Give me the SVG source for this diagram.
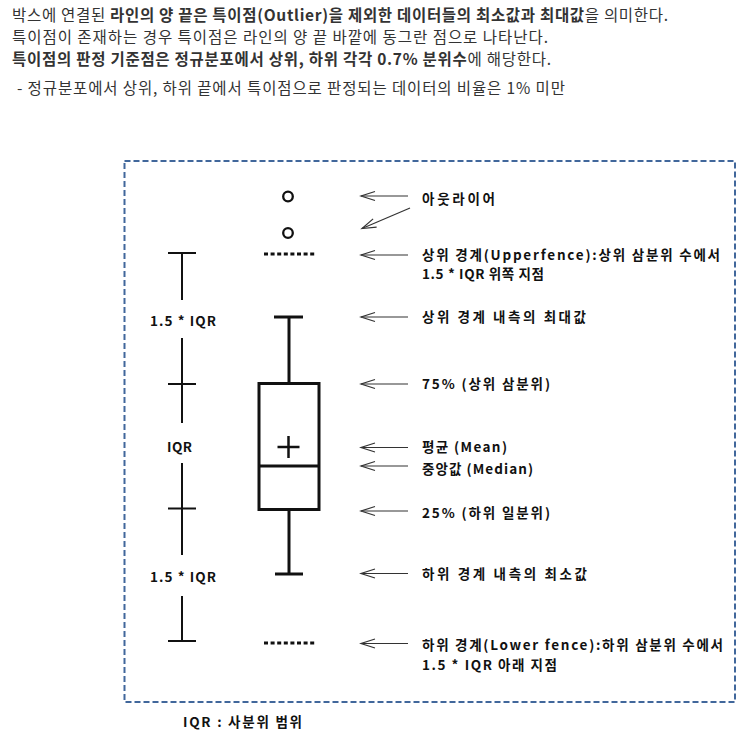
<svg xmlns="http://www.w3.org/2000/svg" width="755" height="737" viewBox="0 0 755 737">
<defs>
<style>
.top{font-family:"Noto Sans CJK KR","Noto Sans",sans-serif;font-size:15.5px;fill:#333}
.b{font-weight:700}
.lbl{font-family:"Noto Sans CJK KR","Liberation Sans",sans-serif;font-size:13.5px;font-weight:700;fill:#111}
.thin{stroke:#111;stroke-width:2;fill:none}
.thick{stroke:#111;stroke-width:3;fill:none}
.arr{stroke:#333;stroke-width:1.2;fill:none;marker-end:url(#open)}
.dot{stroke:#111;stroke-width:3;stroke-dasharray:4 2.6;fill:none}
</style>
<marker id="open" viewBox="-15 -6 17 12" refX="0" refY="0" markerWidth="17" markerHeight="12" markerUnits="userSpaceOnUse" orient="auto">
<path d="M-14,-4.5 L0,0 L-14,4.5" fill="none" stroke="#333" stroke-width="1.2"/>
</marker>
</defs>
<rect width="755" height="737" fill="#fff"/>

<g id="intro">
<text class="top" x="12" y="20.5" textLength="656" lengthAdjust="spacing">박스에 연결된 <tspan class="b">라인의 양 끝은 특이점(Outlier)을 제외한 데이터들의 최소값과 최대값</tspan>을 의미한다.</text>
<text class="top" x="12" y="42.5" textLength="536" lengthAdjust="spacing">특이점이 존재하는 경우 특이점은 라인의 양 끝 바깥에 동그란 점으로 나타난다.</text>
<text class="top" x="12" y="64.5" textLength="539" lengthAdjust="spacing"><tspan class="b">특이점의 판정 기준점은 정규분포에서 상위, 하위 각각 0.7% 분위수</tspan>에 해당한다.</text>
<text class="top" x="17" y="93.5" textLength="548" lengthAdjust="spacing">- 정규분포에서 상위, 하위 끝에서 특이점으로 판정되는 데이터의 비율은 1% 미만</text>
</g>

<g id="frame">
<rect x="124.5" y="161" width="610.5" height="541" fill="none" stroke="#41679B" stroke-width="2" stroke-dasharray="6 3"/>
</g>

<g id="iqr-scale">
<line class="thin" x1="168" y1="253" x2="196" y2="253"/>
<line class="thin" x1="182" y1="253" x2="182" y2="300"/>
<text class="lbl" x="150" y="326" textLength="66" lengthAdjust="spacing">1.5 * IQR</text>
<line class="thin" x1="182" y1="338" x2="182" y2="423"/>
<line class="thin" x1="168" y1="384" x2="196" y2="384"/>
<text class="lbl" x="167" y="452" textLength="25" lengthAdjust="spacing">IQR</text>
<line class="thin" x1="182" y1="463" x2="182" y2="555"/>
<line class="thin" x1="168" y1="508.5" x2="196" y2="508.5"/>
<text class="lbl" x="150" y="582" textLength="66" lengthAdjust="spacing">1.5 * IQR</text>
<line class="thin" x1="182" y1="596" x2="182" y2="641"/>
<line class="thin" x1="168" y1="641" x2="196" y2="641"/>
</g>

<g id="boxplot">
<circle cx="288" cy="196.5" r="4.8" fill="none" stroke="#111" stroke-width="2.3"/>
<circle cx="288" cy="233" r="4.8" fill="none" stroke="#111" stroke-width="2.3"/>
<line class="dot" x1="264" y1="254" x2="316" y2="254"/>
<line class="thick" x1="274" y1="317" x2="303" y2="317"/>
<line class="thick" x1="289" y1="317" x2="289" y2="383.5"/>
<rect class="thick" x="259" y="383.5" width="60" height="126"/>
<line class="thick" x1="259" y1="466" x2="319" y2="466"/>
<line x1="277.5" y1="447" x2="299.5" y2="447" stroke="#111" stroke-width="2.5"/>
<line x1="288.5" y1="436" x2="288.5" y2="458" stroke="#111" stroke-width="2.5"/>
<line class="thick" x1="289" y1="509.5" x2="289" y2="574"/>
<line class="thick" x1="275" y1="574" x2="303" y2="574"/>
<line class="dot" x1="264" y1="643" x2="316" y2="643"/>
</g>

<g id="connectors">
<line class="arr" x1="408" y1="196" x2="361" y2="196"/>
<line class="arr" x1="410" y1="208" x2="362" y2="228.5"/>
<line class="arr" x1="408" y1="255" x2="361" y2="255"/>
<line class="arr" x1="408" y1="317" x2="361" y2="317"/>
<line class="arr" x1="408" y1="384" x2="361" y2="384"/>
<line class="arr" x1="408" y1="447.5" x2="361" y2="447.5"/>
<line class="arr" x1="408" y1="466" x2="361" y2="466"/>
<line class="arr" x1="408" y1="511" x2="361" y2="511"/>
<line class="arr" x1="408" y1="573.5" x2="361" y2="573.5"/>
<line class="arr" x1="408" y1="643.5" x2="361" y2="643.5"/>
</g>

<g id="labels">
<text class="lbl" x="422" y="204" textLength="73" lengthAdjust="spacing">아웃라이어</text>
<text class="lbl" x="422" y="259.5" textLength="298" lengthAdjust="spacing">상위 경계(Upperfence):상위 삼분위 수에서</text>
<text class="lbl" x="422" y="279" textLength="122" lengthAdjust="spacing">1.5 * IQR 위쪽 지점</text>
<text class="lbl" x="422" y="322" textLength="164" lengthAdjust="spacing">상위 경계 내측의 최대값</text>
<text class="lbl" x="422" y="389" textLength="128" lengthAdjust="spacing">75% (상위 삼분위)</text>
<text class="lbl" x="422" y="452" textLength="85" lengthAdjust="spacing">평균 (Mean)</text>
<text class="lbl" x="422" y="473.5" textLength="111" lengthAdjust="spacing">중앙값 (Median)</text>
<text class="lbl" x="422" y="518" textLength="128" lengthAdjust="spacing">25% (하위 일분위)</text>
<text class="lbl" x="422" y="579" textLength="165" lengthAdjust="spacing">하위 경계 내측의 최소값</text>
<text class="lbl" x="422" y="650" textLength="301" lengthAdjust="spacing">하위 경계(Lower fence):하위 삼분위 수에서</text>
<text class="lbl" x="422" y="670" textLength="135" lengthAdjust="spacing">1.5 * IQR 아래 지점</text>
<text class="lbl" x="183" y="727" textLength="119" lengthAdjust="spacing">IQR : 사분위 범위</text>
</g>
</svg>
